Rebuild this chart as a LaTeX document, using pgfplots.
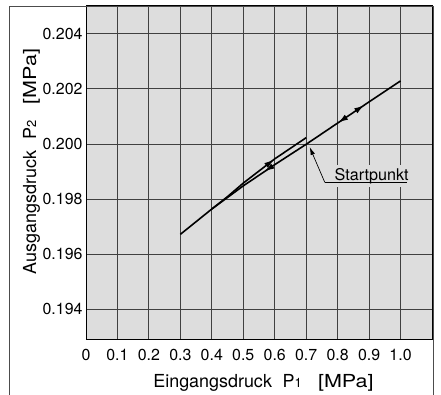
\documentclass[border=0pt]{standalone}
\usepackage{fontspec}
\setmainfont{TeX Gyre Heros}
\usepackage{graphicx}
\usepackage{pgfplots}
\pgfplotsset{compat=1.18}
\usetikzlibrary{decorations.markings,arrows.meta}
\definecolor{bg}{RGB}{221,221,221}
\begin{document}
\begin{tikzpicture}[x=1bp,y=1bp]
\useasboundingbox (0,0) rectangle (441,394);
\begin{axis}[
  at={(86bp,55bp)}, anchor=south west,
  scale only axis, width=346bp, height=333bp,
  xmin=0, xmax=1.1, ymin=0.19292, ymax=0.20501,
  axis background/.style={fill=bg},
  axis line style={black, line width=1bp},
  xtick={0,0.1,0.2,0.3,0.4,0.5,0.6,0.7,0.8,0.9,1.0},
  xticklabels={0,0.1,0.2,0.3,0.4,0.5,0.6,0.7,0.8,0.9,1.0},
  ytick={0.194,0.196,0.198,0.200,0.202,0.204},
  yticklabels={0.194,0.196,0.198,0.200,0.202,0.204},
  major tick length=0pt,
  grid=major,
  major grid style={black!75, line width=0.9bp},
  /pgf/number format/assume math mode=true,
  tick label style={font=\fontsize{16}{17}\selectfont},
  xticklabel style={yshift=-7bp},
  xlabel={Eingangsdruck\hspace{0.6em}P{\fontsize{13}{13}\selectfont 1}\hspace{0.9em}\scalebox{1.2}[1]{[MPa]}},
  ylabel={Ausgangsdruck\hspace{0.6em}P{\fontsize{13}{13}\selectfont 2}\hspace{0.9em}\scalebox{1.2}[1]{[MPa]}},
  label style={font=\fontsize{18}{18}\selectfont},
  xlabel style={at={(axis description cs:0.513,-0.147)}, anchor=base},
  ylabel style={at={(axis description cs:-0.1445,0.533)}, anchor=base},
  clip=false,
]
\addplot[black, line width=1.6bp, postaction={decorate},
  decoration={markings,
    mark=at position 0.391 with {\arrowreversed{Latex[length=10bp,width=6bp]}},
    mark=at position 0.72 with {\arrowreversed{Latex[length=10bp,width=6bp]}},
    mark=at position 0.837 with {\arrow{Latex[length=10bp,width=6bp]}}}]
  coordinates {(0.3,0.19672)(0.4,0.19764)(0.5,0.19848)(0.6,0.19925)(0.7,0.19999)(0.8,0.20076)(0.9,0.20153)(1.0,0.20229)};
\addplot[black, line width=1.6bp, postaction={decorate},
  decoration={markings,
    mark=at position 0.673 with {\arrow{Latex[length=10bp,width=6bp]}}}]
  coordinates {(0.4,0.19764)(0.45,0.19809)(0.5,0.19858)(0.6,0.19946)(0.7,0.20023)};
\node[fill=bg, inner xsep=2bp, inner ysep=3bp, anchor=base] at (axis cs:0.908,0.19869) {\fontsize{16.2}{17}\selectfont Startpunkt};
\draw[black, line width=0.7bp] (axis cs:0.759,0.19861) -- (axis cs:1.019,0.19861);
\draw[black, line width=0.7bp, -{Latex[length=8bp,width=4.5bp]}] (axis cs:0.759,0.19861) -- (axis cs:0.711,0.19989);
\end{axis}
\draw[black!70, line width=0.8bp] (9,-2) -- (9,388) -- (433,388) -- (433,-2);
\end{tikzpicture}
\end{document}
